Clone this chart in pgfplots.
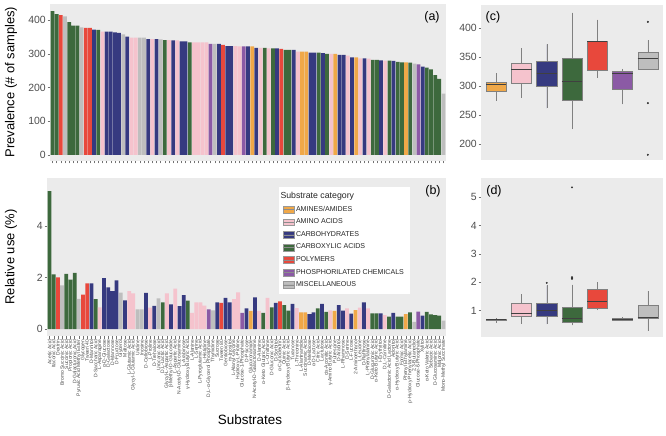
\documentclass[border=0pt]{standalone}
\usepackage{fontspec}
\setmainfont{Liberation Sans}
\usepackage{pgfplots}
\usepackage{pgfplotstable}
\pgfplotsset{compat=1.18}
\usepgfplotslibrary{statistics}
\definecolor{cO}{HTML}{F0A848}
\definecolor{cP}{HTML}{F5C3CD}
\definecolor{cB}{HTML}{363A80}
\definecolor{cG}{HTML}{3D693D}
\definecolor{cR}{HTML}{E8483C}
\definecolor{cV}{HTML}{8B5AA5}
\definecolor{cM}{HTML}{BEBEBE}
\definecolor{panel}{HTML}{EBEBEB}
\definecolor{txt}{HTML}{4D4D4D}

% x = position, p = prevalence (# of samples), u = relative use (%)
\pgfplotstableread{
x p u
1 427 5.35
2 418 2.12
5 394 2.14
6 384 1.92
7 384 2.18
12 371 1.16
28 341 1.03
34 334 1.10
52 318 0.63
54 316 0.84
57 312 0.93
58 312 0.71
65 304 0.80
67 300 0.67
78 282 0.61
79 282 0.61
82 280 0.48
84 276 0.48
85 275 0.48
87 274 0.65
91 259 0.67
92 254 0.57
93 237 0.54
94 226 0.52
}\tabG
\pgfplotstableread{
x p u
3 415 2.00
9 377 1.34
10 377 1.77
42 327 1.02
56 315 1.07
}\tabR
\pgfplotstableread{
x p u
4 411 1.69
8 379 1.17
18 358 1.41
22 348 0.76
23 348 0.76
27 343 1.19
40 330 0.72
88 271 0.28
95 182 0.33
}\tabM
\pgfplotstableread{
x p u
11 372 1.77
14 366 1.98
15 366 1.62
16 364 1.47
17 362 1.89
19 351 1.11
24 344 1.40
26 344 0.90
30 340 0.96
32 337 0.89
33 337 1.32
41 330 1.03
43 323 1.21
44 323 1.03
48 322 0.80
50 318 1.23
55 316 1.02
59 312 0.98
63 304 0.58
64 304 0.65
66 302 0.98
70 297 0.93
71 297 0.71
73 290 0.60
76 287 1.03
80 281 0.61
83 279 0.63
90 262 0.52
}\tabB
\pgfplotstableread{
x p u
13 366 0.84
20 348 1.47
21 348 1.38
25 344 0.83
29 341 1.38
31 340 1.57
35 334 0.63
36 334 1.03
37 334 1.03
38 334 0.91
45 323 1.16
46 322 1.42
51 318 0.70
53 316 1.21
60 307 0.81
68 300 0.72
72 295 0.80
75 287 0.83
77 286 0.80
81 280 0.54
}\tabP
\pgfplotstableread{
x p u
49 322 0.70
61 307 0.65
62 307 0.65
69 300 0.70
74 290 0.73
86 275 0.58
}\tabO
\pgfplotstableread{
x p u
39 330 0.76
47 322 0.63
89 269 0.68
}\tabV

\pgfplotsset{
  gg/.style={
    scale only axis,
    anchor=south west,
    axis background/.style={fill=panel},
    axis x line*=bottom, axis y line*=left,
    axis line style={draw=none},
    tick align=outside,
    major tick length=2.5bp,
    tick style={draw=black!55, line width=0.4pt},
    yticklabel style={font=\fontsize{10.5}{12}\selectfont, text=txt, inner sep=1.5bp},
    /pgf/number format/assume math mode=true,
  },
  catbar/.style={ybar, bar width=0.9, bar shift=0pt, fill=#1, draw=none, forget plot},
  bx/.style={fill=#1, draw=black!50, line width=0.4pt, solid,
    mark=*, mark size=0.8bp, mark options={draw=black!80, fill=black!80}},
  bxaxis/.style={
    boxplot/draw direction=y,
    boxplot/box extend=0.8, boxplot/whisker extend=0,
    boxplot/every median/.style={draw=black!75, line width=0.9pt}},
}

\def\names{Acetic Acid, Itaconic Acid, Dextrin, Bromo Succinic Acid, Succinic Acid, Propionic Acid, D-Galacturonic Acid, Pyruvic Acid Methyl Ester, Glycogen, Tween 40, D-Mannitol, D-Saccharic Acid, L-Asparagine, α-D-Glucose, D-Galactose, D-Mannose, D-Fructose, Glycerol, Maltose, L-Glutamic Acid, Glycyl-L-Glutamic Acid, Uridine, Inosine, D-Cellobiose, L-Proline, D-Trehalose, Urocanic Acid, {D,L-Lactic Acid}, Glycyl-L-Aspartic Acid, β-Methyl-D-Glucoside, L-Aspartic Acid, N-Acetyl-D-Glucosamine, L-Arabinose, γ-Hydroxy Butyric Acid, L-Alanine, L-Serine, L-Pyroglutamic Acid, L-Histidine, {D,L-α-Glycerol Phosphate}, Thymidine, Sucrose, Tween 80, Gentiobiose, m-Inositol, L-Alanyl-Glycine, Hydroxy-L-Proline, Glucose-1-Phosphate, D-Psicose, Glucuronamide, N-Acetyl-D-Galactosamine, D-Alanine, α-Keto Glutaric Acid, L-Ornithine, D-Gluconic Acid, D-Sorbitol, α-Cyclodextrin, Quinic Acid, β-Hydroxy Butyric Acid, Turanose, L-Threonine, L-Alaninamide, Succinamic Acid, D-Melibiose, α-D-Lactose, Citric Acid, Lactulose, cis-Aconitic Acid, γ-Amino Butyric Acid, Putrescine, D-Arabitol, L-Rhamnose, D-Serine, L-Fucose, 2-Aminoethanol, L-Leucine, D-Raffinose, L-Phenylalanine, D-Glucuronic Acid, α-Keto Butyric Acid, i-Erythritol, {D,L-Carnitine}, D-Galactonic Acid Lactone, Adonitol, α-Hydroxy Butyric Acid, Formic Acid, Phenyl Ethylamine, p-Hydroxy Phenylacetic Acid, {2,3-Butanediol}, Glucose-6-Phosphate, Xylitol, α-Keto Valeric Acid, Sebacic Acid, D-Glucosaminic Acid, Malonic Acid, Mono-Methyl Succinate}

\begin{document}
\begin{tikzpicture}
\path[use as bounding box] (0,0) rectangle (666bp,436bp);

% ---------------- (a) prevalence ----------------
\begin{axis}[gg, at={(50bp,275bp)}, width=396bp, height=157bp,
  xmin=0.4, xmax=95.6, ymin=-17.8, ymax=448,
  xtick={1,...,95}, xticklabels={},
  ytick={0,100,200,300,400}]
\addplot[catbar=cG] table[x=x,y=p] {\tabG};
\addplot[catbar=cR] table[x=x,y=p] {\tabR};
\addplot[catbar=cM] table[x=x,y=p] {\tabM};
\addplot[catbar=cB] table[x=x,y=p] {\tabB};
\addplot[catbar=cP] table[x=x,y=p] {\tabP};
\addplot[catbar=cO] table[x=x,y=p] {\tabO};
\addplot[catbar=cV] table[x=x,y=p] {\tabV};
\end{axis}

% ---------------- (b) relative use ----------------
\begin{axis}[gg, at={(47bp,100bp)}, width=399bp, height=158bp,
  xmin=0.4, xmax=95.6, ymin=-0.27, ymax=5.86,
  xtick={1,...,95}, xticklabels/.expand once=\names,
  xticklabel style={rotate=90, anchor=east, font=\fontsize{5}{6}\selectfont, text=txt, inner sep=1bp},
  ytick={0,2,4},
  legend style={at={(axis description cs:0.581,0.945)}, anchor=north west,
    draw=none, fill=white, font=\fontsize{7.1}{8.5}\selectfont, text=black!85,
    row sep=2.1bp, inner xsep=4bp, inner ysep=3.5bp, cells={anchor=west}},
  legend image code/.code={
    \draw[#1, draw=black!40, line width=0.3pt] (0bp,-3.4bp) rectangle (10.5bp,3.4bp);
    \draw[black!45, line width=0.5pt] (0bp,0bp) -- (10.5bp,0bp);
  }]
\addplot[catbar=cG] table[x=x,y=u] {\tabG};
\addplot[catbar=cR] table[x=x,y=u] {\tabR};
\addplot[catbar=cM] table[x=x,y=u] {\tabM};
\addplot[catbar=cB] table[x=x,y=u] {\tabB};
\addplot[catbar=cP] table[x=x,y=u] {\tabP};
\addplot[catbar=cO] table[x=x,y=u] {\tabO};
\addplot[catbar=cV] table[x=x,y=u] {\tabV};
\addlegendimage{empty legend}
\addlegendentry{\hspace*{-15.5bp}\fontsize{8.8}{10}\selectfont Substrate category}
\addlegendimage{fill=cO}\addlegendentry{AMINES/AMIDES}
\addlegendimage{fill=cP}\addlegendentry{AMINO ACIDS}
\addlegendimage{fill=cB}\addlegendentry{CARBOHYDRATES}
\addlegendimage{fill=cG}\addlegendentry{CARBOXYLIC ACIDS}
\addlegendimage{fill=cR}\addlegendentry{POLYMERS}
\addlegendimage{fill=cV}\addlegendentry{PHOSPHORILATED CHEMICALS}
\addlegendimage{fill=cM}\addlegendentry{MISCELLANEOUS}
\end{axis}

% ---------------- (c) prevalence boxplots ----------------
\begin{axis}[gg, bxaxis, at={(481bp,276bp)}, width=182bp, height=155bp,
  xmin=0.4, xmax=7.6, ymin=173, ymax=440,
  xtick=\empty, ytick={200,250,300,350,400}]
\addplot[bx=cO, boxplot prepared={draw position=1, lower whisker=275, lower quartile=291, median=303, upper quartile=307, upper whisker=322}] coordinates {};
\addplot[bx=cP, boxplot prepared={draw position=2, lower whisker=280, lower quartile=305.5, median=328.5, upper quartile=340.5, upper whisker=366}] coordinates {};
\addplot[bx=cB, boxplot prepared={draw position=3, lower whisker=262, lower quartile=300.7, median=322.5, upper quartile=344, upper whisker=372}] coordinates {};
\addplot[bx=cG, boxplot prepared={draw position=4, lower whisker=226, lower quartile=275.7, median=308, upper quartile=348.5, upper whisker=427}] coordinates {};
\addplot[bx=cR, boxplot prepared={draw position=5, lower whisker=315, lower quartile=327, median=377, upper quartile=377, upper whisker=415}] coordinates {};
\addplot[bx=cV, boxplot prepared={draw position=6, lower whisker=269, lower quartile=295.5, median=322, upper quartile=326, upper whisker=330}] coordinates {};
\addplot[bx=cM, boxplot prepared={draw position=7, lower whisker=330, lower quartile=330, median=348, upper quartile=358, upper whisker=379}] table[row sep=\\, y index=0] {y\\ 411\\ 271\\ 182\\};
\end{axis}

% ---------------- (d) relative use boxplots ----------------
\begin{axis}[gg, bxaxis, at={(481bp,99bp)}, width=182bp, height=159bp,
  xmin=0.4, xmax=7.6, ymin=0.07, ymax=5.68,
  xtick=\empty, ytick={1,2,3,4,5}]
\addplot[bx=cO, boxplot prepared={draw position=1, lower whisker=0.58, lower quartile=0.65, median=0.675, upper quartile=0.70, upper whisker=0.73}] coordinates {};
\addplot[bx=cP, boxplot prepared={draw position=2, lower whisker=0.54, lower quartile=0.80, median=0.91, upper quartile=1.26, upper whisker=1.57}] coordinates {};
\addplot[bx=cB, boxplot prepared={draw position=3, lower whisker=0.52, lower quartile=0.80, median=1.02, upper quartile=1.25, upper whisker=1.89}] table[row sep=\\, y index=0] {y\\ 1.98\\};
\addplot[bx=cG, boxplot prepared={draw position=4, lower whisker=0.48, lower quartile=0.60, median=0.73, upper quartile=1.12, upper whisker=1.92}] table[row sep=\\, y index=0] {y\\ 2.12\\ 2.14\\ 2.18\\ 5.35\\};
\addplot[bx=cR, boxplot prepared={draw position=5, lower whisker=1.02, lower quartile=1.07, median=1.34, upper quartile=1.77, upper whisker=2.00}] coordinates {};
\addplot[bx=cV, boxplot prepared={draw position=6, lower whisker=0.63, lower quartile=0.655, median=0.68, upper quartile=0.72, upper whisker=0.76}] coordinates {};
\addplot[bx=cM, boxplot prepared={draw position=7, lower whisker=0.28, lower quartile=0.72, median=0.76, upper quartile=1.19, upper whisker=1.69}] coordinates {};
\end{axis}

% ---------------- titles and panel tags ----------------
\node[rotate=90, font=\fontsize{13}{15}\selectfont] at (11bp,354bp) {Prevalence (\# of samples)};
\node[rotate=90, font=\fontsize{13}{15}\selectfont] at (11bp,179bp) {Relative use (\%)};
\node[font=\fontsize{13.5}{16}\selectfont] at (250bp,16bp) {Substrates};
\node[font=\fontsize{12.5}{15}\selectfont] at (432bp,419bp) {(a)};
\node[font=\fontsize{12.5}{15}\selectfont] at (433bp,245bp) {(b)};
\node[font=\fontsize{12.5}{15}\selectfont] at (493bp,419bp) {(c)};
\node[font=\fontsize{12.5}{15}\selectfont] at (494bp,245bp) {(d)};
\end{tikzpicture}
\end{document}
